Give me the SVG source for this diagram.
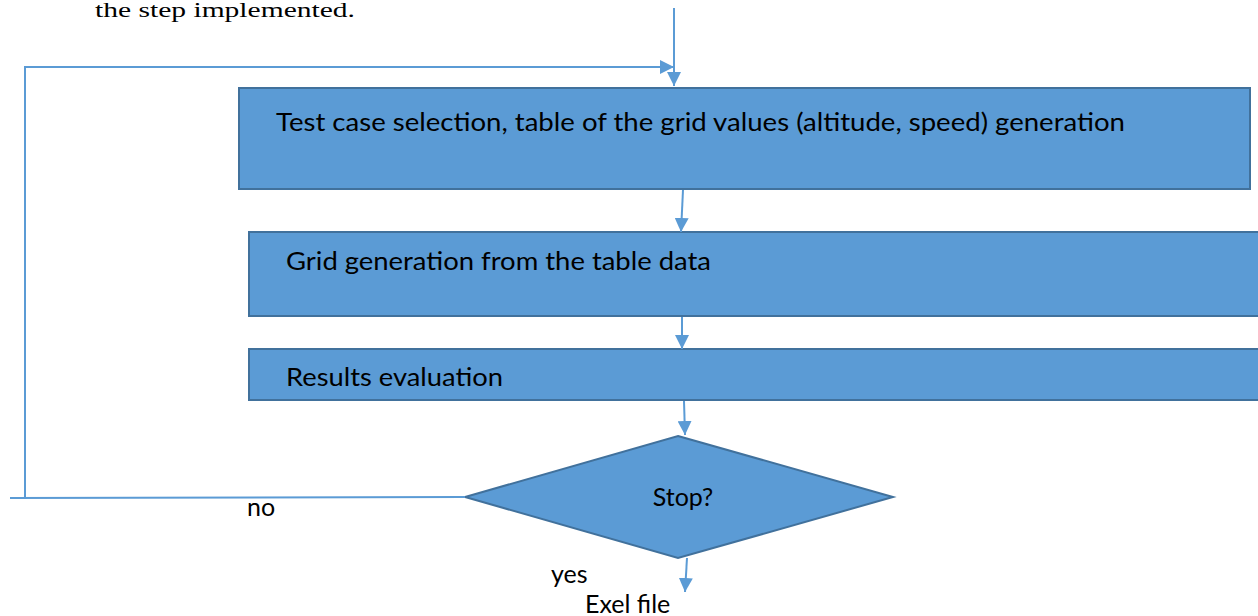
<svg xmlns="http://www.w3.org/2000/svg" width="1258" height="616" viewBox="0 0 1258 616">
<style>
.box{fill:#5B9BD5;stroke:#41719C;stroke-width:2}
.lbl{font-family:Lato,"Open Sans","Liberation Sans",sans-serif;font-size:25px;fill:#000}
.con{fill:none;stroke:#5B9BD5;stroke-width:2}
</style>
<defs>
<marker id="ah" viewBox="0 0 10 10" refX="10" refY="5" markerWidth="7" markerHeight="7" markerUnits="strokeWidth" orient="auto">
<path d="M0,0 L10,5 L0,10 z" fill="#5B9BD5"/>
</marker>
</defs>
<rect width="1258" height="616" fill="#fff"/>
<text x="95" y="17" font-family="'Liberation Serif','DejaVu Serif',serif" font-size="21" textLength="260" lengthAdjust="spacingAndGlyphs">the step implemented.</text>
<g id="n1"><rect class="box" x="239" y="88" width="1011" height="101"/>
<text class="lbl" x="276" y="131" textLength="849" lengthAdjust="spacingAndGlyphs">Test case selection, table of the grid values (altitude, speed) generation</text></g>
<g id="n2"><rect class="box" x="249" y="232" width="1020" height="84"/>
<text class="lbl" x="286" y="270" textLength="425" lengthAdjust="spacingAndGlyphs">Grid generation from the table data</text></g>
<g id="n3"><rect class="box" x="249" y="349" width="1020" height="51"/>
<text class="lbl" x="286" y="386" textLength="217" lengthAdjust="spacingAndGlyphs">Results evaluation</text></g>
<g id="n4"><polygon class="box" points="678,436 893,497 678,558 465,497"/>
<text class="lbl" x="683" y="506" text-anchor="middle">Stop?</text></g>
<g id="connectors">
<line class="con" x1="674" y1="8" x2="674" y2="86" marker-end="url(#ah)"/>
<polyline class="con" points="465,497 10,498"/>
<polyline class="con" points="25,498 25,67 674,67" marker-end="url(#ah)"/>
<line class="con" x1="683" y1="190" x2="681" y2="232" marker-end="url(#ah)"/>
<line class="con" x1="682" y1="317" x2="682" y2="349" marker-end="url(#ah)"/>
<line class="con" x1="684" y1="401" x2="685" y2="435" marker-end="url(#ah)"/>
<line class="con" x1="687" y1="558" x2="685" y2="592" marker-end="url(#ah)"/>
</g>
<text class="lbl" x="247" y="516">no</text>
<text class="lbl" x="551" y="583">yes</text>
<text class="lbl" x="585" y="613">Exel file</text>
</svg>
